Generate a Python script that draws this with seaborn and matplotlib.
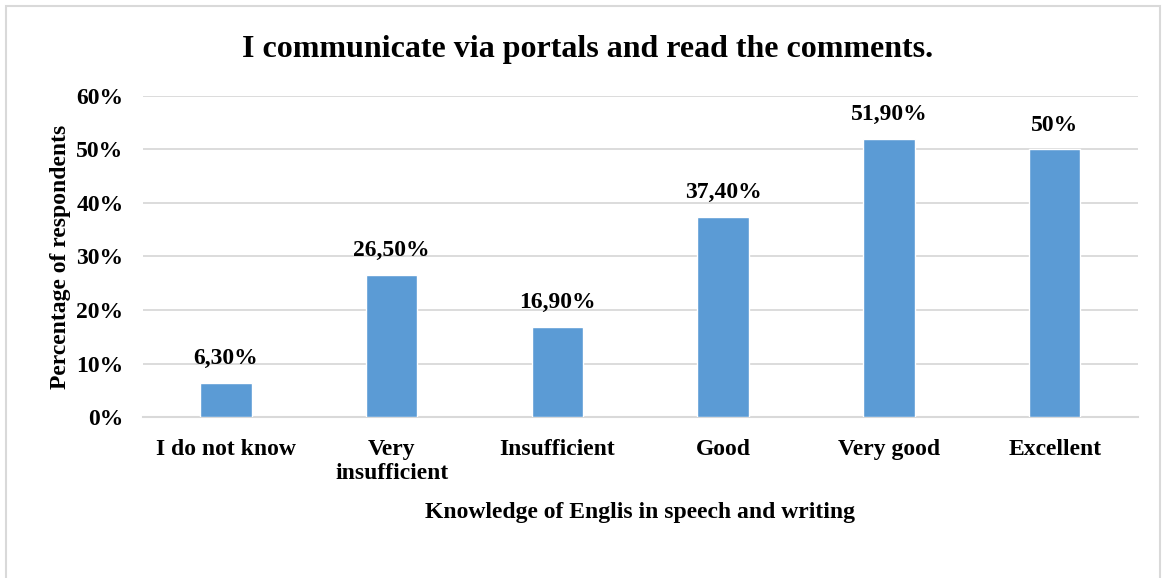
import matplotlib
matplotlib.use("Agg")
import matplotlib.pyplot as plt
from matplotlib.patches import Rectangle
import seaborn as sns
import pandas as pd

categories = ["I do not know", "Very\ninsufficient", "Insufficient", "Good", "Very good", "Excellent"]
values = [6.3, 26.5, 16.9, 37.4, 51.9, 50.0]
value_labels = ["6,30%", "26,50%", "16,90%", "37,40%", "51,90%", "50%"]
y_ticks = [0, 10, 20, 30, 40, 50, 60]
y_tick_labels = ["0%", "10%", "20%", "30%", "40%", "50%", "60%"]

title = "I communicate via portals and read the comments."
x_title = "Knowledge of Englis in speech and writing"
y_title = "Percentage of respondents"

sns.set_theme(style="white")
plt.rcParams["font.family"] = ["Liberation Serif", "DejaVu Serif"]
plt.rcParams["font.weight"] = "bold"
plt.rcParams["text.color"] = "black"
plt.rcParams["axes.labelcolor"] = "black"
plt.rcParams["xtick.color"] = "black"
plt.rcParams["ytick.color"] = "black"

df = pd.DataFrame({"category": categories, "value": values})

fig = plt.figure(figsize=(11.62, 5.78), dpi=100)
ax = fig.add_axes([0.123, 0.2785, 0.856, 0.5555])

sns.barplot(data=df, x="category", y="value", color="#5B9BD5", saturation=1,
            width=0.31, ax=ax, zorder=3)

ax.set_ylim(0, 60)
ax.set_yticks(y_ticks)
ax.set_yticklabels(y_tick_labels, fontsize=17, fontweight="bold")
ax.set_xticklabels(categories, fontsize=17, fontweight="bold", linespacing=1.15)
ax.tick_params(axis="y", length=0, pad=14)
ax.tick_params(axis="x", length=0, pad=16)
ax.yaxis.grid(True, color="#D9D9D9", linewidth=1.3, zorder=0)
ax.set_axisbelow(True)
for side in ["left", "right", "top"]:
    ax.spines[side].set_visible(False)
ax.spines["bottom"].set_color("#D9D9D9")
ax.spines["bottom"].set_linewidth(1.5)

for patch, lab in zip(ax.patches, value_labels):
    ax.annotate(lab, (patch.get_x() + patch.get_width() / 2, patch.get_height()),
                xytext=(0, 10), textcoords="offset points", ha="center", va="bottom",
                fontsize=17, fontweight="bold")

ax.set_xlabel(x_title, fontsize=17, fontweight="bold", labelpad=13)
ax.set_ylabel(y_title, fontsize=17, fontweight="bold", labelpad=4)
fig.text(0.506, 0.914, title, ha="center", va="center", fontsize=23, fontweight="bold")

fig.patches.append(Rectangle((0.005, -0.1), 0.993, 1.09, transform=fig.transFigure,
                             fill=False, edgecolor="#D9D9D9", linewidth=1.5))

fig.savefig("out.png", dpi=100, facecolor="white")
